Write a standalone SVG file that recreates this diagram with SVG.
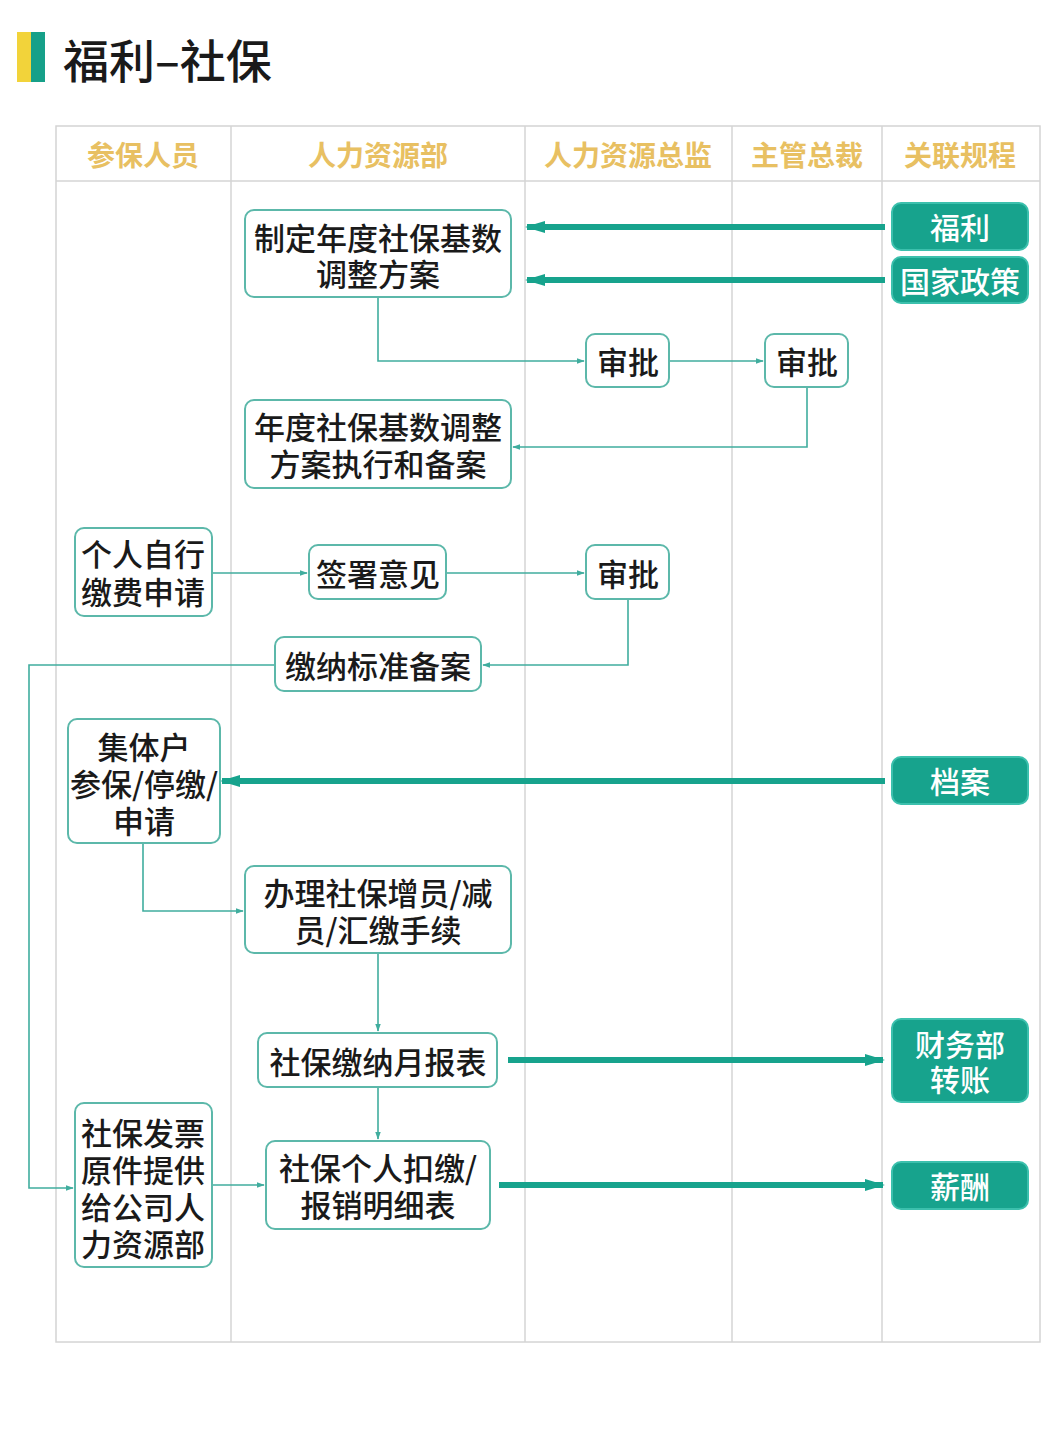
<svg xmlns="http://www.w3.org/2000/svg" width="1055" height="1447" viewBox="0 0 1055 1447">
<defs>
<style>
.t{font-family:"Noto Sans CJK SC","Noto Sans",sans-serif;font-size:31px;fill:#1a1a1a;text-anchor:middle;dominant-baseline:central;font-weight:500}
.w{font-family:"Noto Sans CJK SC","Noto Sans",sans-serif;font-size:30px;fill:#ffffff;text-anchor:middle;dominant-baseline:central;font-weight:500}
.h{font-family:"Noto Sans CJK SC","Noto Sans",sans-serif;font-size:28px;fill:#e8c062;text-anchor:middle;dominant-baseline:central;font-weight:700}
.n{fill:#ffffff;stroke:#5cb8aa;stroke-width:2}
.g{fill:#17a38d;stroke:#3cc0ad;stroke-width:2}
.grid{stroke:#d4d4d4;stroke-width:1.5;fill:none}
.thin{stroke:#40ad9e;stroke-width:1.6;fill:none}
.thick{stroke:#17a38d;stroke-width:6;fill:none}
</style>
<marker id="as" viewBox="0 0 10 10" refX="9" refY="5" markerWidth="8" markerHeight="8" markerUnits="userSpaceOnUse" orient="auto"><path d="M0,1.5 L10,5 L0,8.5 Z" fill="#40ad9e"/></marker>
<marker id="al" viewBox="0 0 10 10" refX="9" refY="5" markerWidth="20" markerHeight="20" markerUnits="userSpaceOnUse" orient="auto"><path d="M0,2 L10,5 L0,8 Z" fill="#17a38d"/></marker>
</defs>
<rect width="1055" height="1447" fill="#ffffff"/>
<g id="title">
<rect x="17" y="32" width="14" height="50" fill="#f2d33a"/>
<rect x="31" y="32" width="14" height="50" fill="#16a089"/>
<text x="63" y="58" style="font-family:'Noto Sans CJK SC',sans-serif;font-size:46px;fill:#1a1a1a;dominant-baseline:central;font-weight:500">福利–社保</text>
</g>
<g id="lanes">
<rect class="grid" x="56" y="126" width="984" height="1216"/>
<line class="grid" x1="56" y1="181" x2="1040" y2="181"/>
<line class="grid" x1="231" y1="126" x2="231" y2="1342"/>
<line class="grid" x1="525" y1="126" x2="525" y2="1342"/>
<line class="grid" x1="732" y1="126" x2="732" y2="1342"/>
<line class="grid" x1="882" y1="126" x2="882" y2="1342"/>
<text class="h" x="143" y="154">参保人员</text>
<text class="h" x="378" y="154">人力资源部</text>
<text class="h" x="628" y="154">人力资源总监</text>
<text class="h" x="807" y="154">主管总裁</text>
<text class="h" x="960" y="154">关联规程</text>
</g>
<g id="connectors">
<line class="thick" x1="885" y1="227" x2="527" y2="227" marker-end="url(#al)"/>
<line class="thick" x1="885" y1="280" x2="527" y2="280" marker-end="url(#al)"/>
<polyline class="thin" points="378,297 378,361 584,361" marker-end="url(#as)"/>
<line class="thin" x1="669" y1="361" x2="763" y2="361" marker-end="url(#as)"/>
<polyline class="thin" points="807,387 807,447 513,447" marker-end="url(#as)"/>
<line class="thin" x1="212" y1="573" x2="307" y2="573" marker-end="url(#as)"/>
<line class="thin" x1="446" y1="573" x2="584" y2="573" marker-end="url(#as)"/>
<polyline class="thin" points="628,599 628,665 483,665" marker-end="url(#as)"/>
<polyline class="thin" points="275,665 29,665 29,1188 73,1188" marker-end="url(#as)"/>
<line class="thick" x1="885" y1="781" x2="222" y2="781" marker-end="url(#al)"/>
<polyline class="thin" points="143,843 143,911 243,911" marker-end="url(#as)"/>
<line class="thin" x1="378" y1="953" x2="378" y2="1031" marker-end="url(#as)"/>
<line class="thick" x1="508" y1="1060" x2="883" y2="1060" marker-end="url(#al)"/>
<line class="thin" x1="378" y1="1087" x2="378" y2="1139" marker-end="url(#as)"/>
<line class="thick" x1="499" y1="1185" x2="883" y2="1185" marker-end="url(#al)"/>
<line class="thin" x1="212" y1="1185" x2="264" y2="1185" marker-end="url(#as)"/>
</g>
<g id="n1"><rect class="n" x="245" y="210" width="266" height="87" rx="9"/><text class="t" x="378" y="236">制定年度社保基数</text><text class="t" x="378" y="272">调整方案</text></g>
<g id="r1"><rect class="g" x="892" y="203" width="136" height="47" rx="9"/><text class="w" x="960" y="226">福利</text></g>
<g id="r2"><rect class="g" x="892" y="257" width="136" height="46" rx="9"/><text class="w" x="960" y="280">国家政策</text></g>
<g id="a1"><rect class="n" x="586" y="334" width="83" height="53" rx="9"/><text class="t" x="628" y="360">审批</text></g>
<g id="a2"><rect class="n" x="765" y="334" width="83" height="53" rx="9"/><text class="t" x="807" y="360">审批</text></g>
<g id="n2"><rect class="n" x="245" y="400" width="266" height="88" rx="9"/><text class="t" x="378" y="425">年度社保基数调整</text><text class="t" x="378" y="462">方案执行和备案</text></g>
<g id="n3"><rect class="n" x="75" y="528" width="137" height="88" rx="9"/><text class="t" x="143" y="552">个人自行</text><text class="t" x="143" y="590">缴费申请</text></g>
<g id="n4"><rect class="n" x="309" y="545" width="137" height="54" rx="9"/><text class="t" x="378" y="572">签署意见</text></g>
<g id="a3"><rect class="n" x="586" y="545" width="83" height="54" rx="9"/><text class="t" x="628" y="572">审批</text></g>
<g id="n5"><rect class="n" x="275" y="637" width="206" height="54" rx="9"/><text class="t" x="378" y="664">缴纳标准备案</text></g>
<g id="n6"><rect class="n" x="68" y="719" width="152" height="124" rx="9"/><text class="t" x="144" y="745">集体户</text><text class="t" x="144" y="782">参保/停缴/</text><text class="t" x="144" y="819">申请</text></g>
<g id="r3"><rect class="g" x="892" y="757" width="136" height="47" rx="9"/><text class="w" x="960" y="780">档案</text></g>
<g id="n7"><rect class="n" x="245" y="866" width="266" height="87" rx="9"/><text class="t" x="378" y="891">办理社保增员/减</text><text class="t" x="378" y="928">员/汇缴手续</text></g>
<g id="n8"><rect class="n" x="258" y="1033" width="239" height="54" rx="9"/><text class="t" x="378" y="1060">社保缴纳月报表</text></g>
<g id="r4"><rect class="g" x="892" y="1019" width="136" height="83" rx="9"/><text class="w" x="960" y="1043">财务部</text><text class="w" x="960" y="1078">转账</text></g>
<g id="n9"><rect class="n" x="266" y="1141" width="224" height="88" rx="9"/><text class="t" x="378" y="1166">社保个人扣缴/</text><text class="t" x="378" y="1203">报销明细表</text></g>
<g id="r5"><rect class="g" x="892" y="1162" width="136" height="47" rx="9"/><text class="w" x="960" y="1185">薪酬</text></g>
<g id="n10"><rect class="n" x="75" y="1103" width="137" height="164" rx="9"/><text class="t" x="143" y="1131">社保发票</text><text class="t" x="143" y="1168">原件提供</text><text class="t" x="143" y="1205">给公司人</text><text class="t" x="143" y="1242">力资源部</text></g>
</svg>
